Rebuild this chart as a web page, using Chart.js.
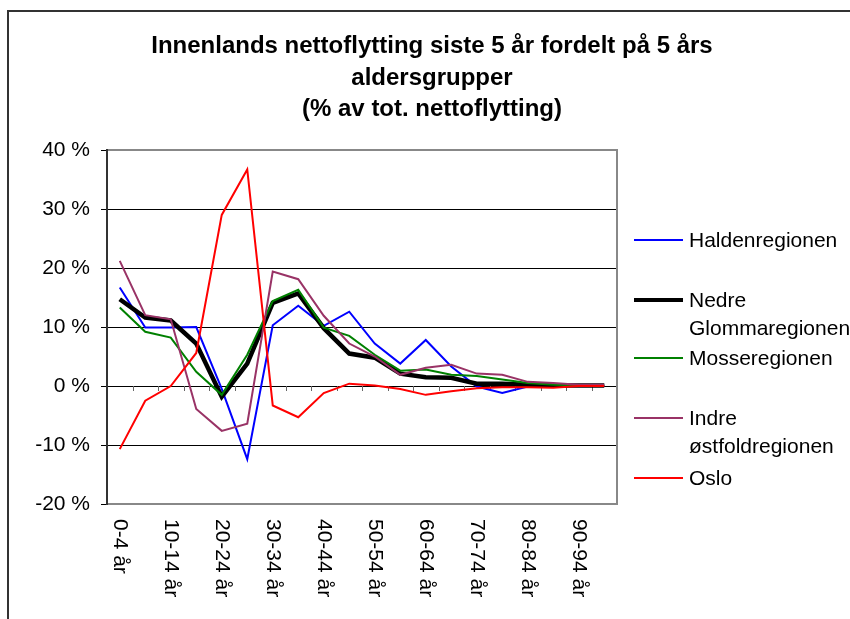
<!DOCTYPE html>
<html lang="no">
<head>
<meta charset="utf-8">
<title>Innenlands nettoflytting</title>
<script src="https://cdn.jsdelivr.net/npm/chart.js@4.4.1/dist/chart.umd.min.js"></script>
<style>
    html, body { margin: 0; padding: 0; background: #fff; overflow: hidden; }
    body { width: 850px; height: 619px; position: relative; font-family: "Liberation Sans", Arial, sans-serif; color: #000; }
    #frame { position: absolute; left: 7px; top: 10px; width: 900px; height: 700px; border-left: 2px solid #333; border-top: 2px solid #333; }
    #wrap { position: absolute; left: 0; top: 0; width: 850px; height: 619px; }
    #title { position: absolute; left: 0; top: 29px; width: 864px; text-align: center; font-weight: bold; font-size: 24px; line-height: 31.5px; }
    #legend { position: absolute; left: 634px; top: 0; }
    .item { position: absolute; left: 0; display: flex; align-items: flex-start; font-size: 21px; line-height: 28px; white-space: nowrap; }
    .swatch { width: 49px; margin-right: 6px; }
</style>
</head>
<body>
<div id="frame"></div>
<div id="wrap"><canvas id="chart"></canvas></div>
<div id="title">Innenlands nettoflytting siste 5 år fordelt på 5 års<br>aldersgrupper<br>(% av tot. nettoflytting)</div>
<div id="legend"></div>
<script>
const ageGroups = ['0-4 år', '5-9 år', '10-14 år', '15-19 år', '20-24 år', '25-29 år', '30-34 år', '35-39 år',
    '40-44 år', '45-49 år', '50-54 år', '55-59 år', '60-64 år', '65-69 år', '70-74 år', '75-79 år',
    '80-84 år', '85-89 år', '90-94 år', '95+ år'];

const haldenregionen = [16.7, 9.9, 9.9, 10.0, -0.5, -12.4, 10.3, 13.6, 10.2, 12.6, 7.2, 3.8, 7.8, 3.3, -0.1, -1.2, -0.1, 0.0, 0.0, 0.0];
const nedreGlommaregionen = [14.7, 11.6, 11.1, 7.2, -1.8, 3.8, 14.1, 15.7, 9.8, 5.5, 4.8, 2.1, 1.5, 1.4, 0.4, 0.4, 0.2, 0.1, 0.1, 0.1];
const mosseregionen = [13.3, 9.2, 8.2, 2.4, -1.5, 5.3, 14.4, 16.3, 9.9, 8.5, 5.3, 2.6, 2.8, 1.9, 1.7, 1.1, 0.5, 0.2, 0.1, 0.1];
const indreOstfoldregionen = [21.2, 12.0, 11.3, -3.9, -7.6, -6.4, 19.4, 18.1, 11.9, 7.2, 5.0, 1.9, 3.1, 3.6, 2.1, 1.9, 0.7, 0.5, 0.2, 0.2];
const oslo = [-10.7, -2.5, 0.0, 5.6, 29.0, 36.7, -3.3, -5.3, -1.2, 0.4, 0.1, -0.5, -1.5, -0.9, -0.4, -0.2, -0.2, -0.3, 0.0, 0.0];

const yTicks = [-20, -10, 0, 10, 20, 30, 40];

// legend layout (first text line centre, px) - kept apart from the data
const legendRows = [240, 300, 358, 418, 478];

const series = [
    { label: 'Haldenregionen', data: haldenregionen, color: '#0000ff', width: 2, legendWidth: 1.5, order: 4 },
    { label: 'Nedre Glommaregionen', data: nedreGlommaregionen, color: '#000000', width: 4.5, legendWidth: 4, order: 3, legendText: 'Nedre<br>Glommaregionen' },
    { label: 'Mosseregionen', data: mosseregionen, color: '#008000', width: 2, legendWidth: 1.5, order: 2 },
    { label: 'Indre østfoldregionen', data: indreOstfoldregionen, color: '#993366', width: 2, legendWidth: 2, order: 1, legendText: 'Indre<br>østfoldregionen' },
    { label: 'Oslo', data: oslo, color: '#ff0000', width: 2, legendWidth: 1.5, order: 0 }
];

Chart.defaults.font.family = '"Liberation Sans", Arial, sans-serif';
Chart.defaults.color = '#000';

const excelFrame = {
    id: 'excelFrame',
    beforeDatasetsDraw(chart) {
        const { ctx, chartArea: a, scales: { x, y } } = chart;
        ctx.save();
        // small category ticks on the zero line
        const y0 = y.getPixelForValue(0);
        ctx.strokeStyle = '#666';
        ctx.lineWidth = 1;
        ctx.beginPath();
        for (let i = 1; i < ageGroups.length; i++) {
            const px = Math.round((x.getPixelForValue(i - 1) + x.getPixelForValue(i)) / 2) + 0.5;
            ctx.moveTo(px, y0);
            ctx.lineTo(px, y0 + 5);
        }
        ctx.stroke();
        // plot border
        ctx.strokeStyle = '#888';
        ctx.lineWidth = 2;
        ctx.beginPath();
        ctx.moveTo(a.left, a.top);
        ctx.lineTo(a.right, a.top);
        ctx.lineTo(a.right, a.bottom);
        ctx.lineTo(a.left, a.bottom);
        ctx.stroke();
        ctx.strokeStyle = '#333';
        ctx.beginPath();
        ctx.moveTo(a.left, a.top - 1);
        ctx.lineTo(a.left, a.bottom + 1);
        ctx.stroke();
        ctx.restore();
    },
    afterDraw(chart) {
        const { ctx, chartArea: a, scales: { x } } = chart;
        ctx.save();
        ctx.font = '21px "Liberation Sans", Arial, sans-serif';
        ctx.fillStyle = '#000';
        ctx.textAlign = 'left';
        ctx.textBaseline = 'middle';
        ageGroups.forEach((lbl, i) => {
            if (i % 2) return;
            ctx.save();
            ctx.translate(x.getPixelForValue(i), a.bottom + 15);
            ctx.rotate(Math.PI / 2);
            ctx.fillText(lbl, 0, 0);
            ctx.restore();
        });
        ctx.restore();
    }
};

new Chart(document.getElementById('chart'), {
    type: 'line',
    data: {
        labels: ageGroups,
        datasets: series.map(s => ({
            label: s.label,
            data: s.data,
            borderColor: s.color,
            backgroundColor: s.color,
            borderWidth: s.width,
            pointRadius: 0,
            tension: 0,
            fill: false,
            order: s.order
        }))
    },
    options: {
        responsive: true,
        maintainAspectRatio: false,
        animation: false,
        layout: { padding: { left: 0, top: 150, right: 233, bottom: 5 } },
        plugins: {
            legend: { display: false },
            title: { display: false },
            tooltip: { enabled: false }
        },
        scales: {
            x: {
                offset: true,
                grid: { display: false },
                border: { display: false },
                ticks: { display: false },
                afterFit(scale) { scale.height = 110; }
            },
            y: {
                min: -20,
                max: 40,
                afterBuildTicks(scale) { scale.ticks = yTicks.map(v => ({ value: v })); },
                afterFit(scale) { scale.width = 107; },
                border: { display: false },
                grid: {
                    color: c => (c.tick && (c.tick.value === 40 || c.tick.value === -20)) ? 'rgba(0,0,0,0)' : '#000',
                    tickColor: '#000',
                    tickLength: 6,
                    lineWidth: 1
                },
                ticks: {
                    padding: 11,
                    font: { size: 21 },
                    color: '#000',
                    callback: v => v + ' %'
                }
            }
        }
    },
    plugins: [excelFrame]
});

const legend = document.getElementById('legend');
series.forEach((s, i) => {
    const item = document.createElement('div');
    item.className = 'item';
    item.style.top = (legendRows[i] - 14) + 'px';
    const sw = document.createElement('div');
    sw.className = 'swatch';
    sw.style.height = s.legendWidth + 'px';
    sw.style.marginTop = (14 - s.legendWidth / 2) + 'px';
    sw.style.background = s.color;
    const txt = document.createElement('div');
    txt.innerHTML = s.legendText || s.label;
    item.appendChild(sw);
    item.appendChild(txt);
    legend.appendChild(item);
});
</script>
</body>
</html>
